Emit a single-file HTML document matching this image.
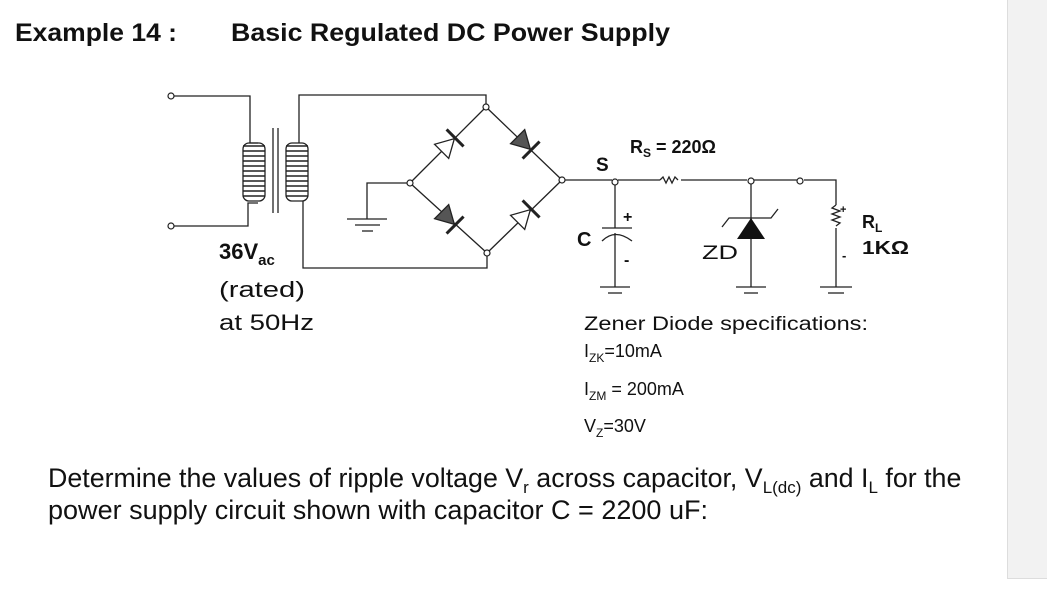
<!DOCTYPE html>
<html><head><style>
body{margin:0;width:1047px;height:590px;background:#fff;position:relative;overflow:hidden;font-family:"Liberation Sans",Arial,sans-serif}
</style></head><body>
<div style="position:absolute;left:1007px;top:0;width:40px;height:578px;background:#f2f2f2;border-left:1px solid #ddd;border-bottom:1px solid #ddd"></div>
<svg width="1047" height="590" style="position:absolute;left:0;top:0" font-family="Liberation Sans, Arial, sans-serif">
<g fill="#111" font-weight="bold" font-size="25">
<text x="15" y="41" textLength="162" lengthAdjust="spacingAndGlyphs">Example 14 :</text>
<text x="231" y="41" textLength="439" lengthAdjust="spacingAndGlyphs">Basic Regulated DC Power Supply</text>
</g>
<g stroke="#222" stroke-width="1.3" fill="none">
<polyline points="174,96 250,96 250,143 258,143"/>
<polyline points="174,226 248,226 248,203 258,203"/>
<g stroke-width="1.6">
<path d="M243,146 h22 M243,151 h22 M243,156 h22 M243,161 h22 M243,166 h22 M243,171 h22 M243,176 h22 M243,181 h22 M243,186 h22 M243,191 h22 M243,196 h22"/>
<path d="M286,146 h22 M286,151 h22 M286,156 h22 M286,161 h22 M286,166 h22 M286,171 h22 M286,176 h22 M286,181 h22 M286,186 h22 M286,191 h22 M286,196 h22"/>
</g>
<rect x="243" y="143" width="22" height="58" rx="6"/>
<rect x="286" y="143" width="22" height="58" rx="6"/>
<line x1="273" y1="128" x2="273" y2="213"/><line x1="278" y1="128" x2="278" y2="213"/>
<polyline points="299,143 299,95 486,95 486,104"/>
<polyline points="303,201 303,268 487,268 487,256"/>
<line x1="486" y1="107" x2="562" y2="180"/><line x1="486" y1="107" x2="410" y2="183"/>
<line x1="410" y1="183" x2="487" y2="253"/><line x1="487" y1="253" x2="562" y2="180"/>
<polyline points="407,183 367,183 367,219"/>
<line x1="347" y1="219" x2="387" y2="219"/><line x1="355" y1="225" x2="380" y2="225"/><line x1="362" y1="231" x2="373" y2="231"/>
<line x1="565" y1="180" x2="612" y2="180"/>
<line x1="618" y1="180" x2="660" y2="180"/>
<path d="M660,180 l3,-3 l3,6 l3,-6 l3,6 l3,-6 l3,3"/>
<line x1="681" y1="180" x2="747" y2="180"/>
<line x1="754" y1="180" x2="797" y2="180"/>
<polyline points="804,180 836,180 836,205"/>
<path d="M836,205 l-4,3 l8,3 l-8,3 l8,3 l-8,3 l8,3 l-4,3"/>
<line x1="836" y1="228" x2="836" y2="287"/>
<line x1="820" y1="287" x2="852" y2="287"/><line x1="828" y1="293" x2="844" y2="293"/>
<line x1="615" y1="184" x2="615" y2="228"/>
<line x1="602" y1="228" x2="632" y2="228"/>
<path d="M602,241 Q615,228 632,241"/>
<line x1="615" y1="233" x2="615" y2="287"/>
<line x1="600" y1="287" x2="630" y2="287"/><line x1="608" y1="293" x2="622" y2="293"/>
<line x1="751" y1="184" x2="751" y2="287"/>
<path d="M722,227 l7,-9 h42 l7,-9"/>
<line x1="736" y1="287" x2="766" y2="287"/><line x1="744" y1="293" x2="758" y2="293"/>
</g>
<polygon points="751,218 737,239 765,239" fill="#111"/>
<g stroke="#222" stroke-width="1.3">
<g transform="translate(448,145) rotate(-45)"><polygon points="-9,-10 -9,10 9,0" fill="#fff"/><line x1="10" y1="-12" x2="10" y2="12" stroke-width="3"/></g>
<g transform="translate(524,143) rotate(45)"><polygon points="-9,-10 -9,10 9,0" fill="#555"/><line x1="10" y1="-12" x2="10" y2="12" stroke-width="3"/></g>
<g transform="translate(448,218) rotate(45)"><polygon points="-9,-10 -9,10 9,0" fill="#555"/><line x1="10" y1="-12" x2="10" y2="12" stroke-width="3"/></g>
<g transform="translate(524,216) rotate(-45)"><polygon points="-9,-10 -9,10 9,0" fill="#fff"/><line x1="10" y1="-12" x2="10" y2="12" stroke-width="3"/></g>
</g>
<g fill="#fff" stroke="#222" stroke-width="1.2">
<circle cx="171" cy="96" r="3"/><circle cx="171" cy="226" r="3"/>
<circle cx="486" cy="107" r="3"/><circle cx="487" cy="253" r="3"/>
<circle cx="410" cy="183" r="3"/><circle cx="562" cy="180" r="3"/>
<circle cx="615" cy="182" r="3"/><circle cx="751" cy="181" r="3"/><circle cx="800" cy="181" r="3"/>
</g>
<g fill="#111" font-weight="bold">
<text x="596" y="171" font-size="19">S</text>
<text x="630" y="153" font-size="18">R<tspan font-size="12" dy="4">S</tspan><tspan dy="-4"> = 220Ω</tspan></text>
<text x="577" y="246" font-size="20">C</text>
<text x="623" y="222" font-size="16">+</text>
<text x="624" y="265" font-size="16">-</text>
<text x="702" y="259" font-size="19" font-weight="normal" textLength="36" lengthAdjust="spacingAndGlyphs">ZD</text>
<text x="840" y="213" font-size="11">+</text>
<text x="842" y="260" font-size="13">-</text>
<text x="862" y="228" font-size="18">R<tspan font-size="12" dy="4">L</tspan></text>
<text x="862" y="254" font-size="18" textLength="47" lengthAdjust="spacingAndGlyphs">1KΩ</text>
<text x="219" y="259" font-size="22">36V<tspan font-size="15" dy="6">ac</tspan></text>
<text x="219" y="297" font-size="22" font-weight="normal" textLength="86" lengthAdjust="spacingAndGlyphs">(rated)</text>
<text x="219" y="330" font-size="22" font-weight="normal" textLength="95" lengthAdjust="spacingAndGlyphs">at 50Hz</text>
<text x="584" y="330" font-size="19" font-weight="normal" textLength="284" lengthAdjust="spacingAndGlyphs">Zener Diode specifications:</text>
<text x="584" y="357" font-size="18" font-weight="normal">I<tspan font-size="12" dy="5">ZK</tspan><tspan dy="-5">=10mA</tspan></text>
<text x="584" y="395" font-size="18" font-weight="normal">I<tspan font-size="12" dy="5">ZM</tspan><tspan dy="-5"> = 200mA</tspan></text>
<text x="584" y="432" font-size="18" font-weight="normal">V<tspan font-size="12" dy="5">Z</tspan><tspan dy="-5">=30V</tspan></text>
</g>
<g fill="#111" font-size="26.8">
<text x="48" y="487">Determine the values of ripple voltage V<tspan font-size="17" dy="6">r</tspan><tspan dy="-6"> across capacitor, V</tspan><tspan font-size="17" dy="6">L(dc)</tspan><tspan dy="-6"> and I</tspan><tspan font-size="17" dy="6">L</tspan><tspan dy="-6"> for the</tspan></text>
<text x="48" y="519" textLength="660" lengthAdjust="spacingAndGlyphs">power supply circuit shown with capacitor C = 2200 uF:</text>
</g>
</svg>
</body></html>
